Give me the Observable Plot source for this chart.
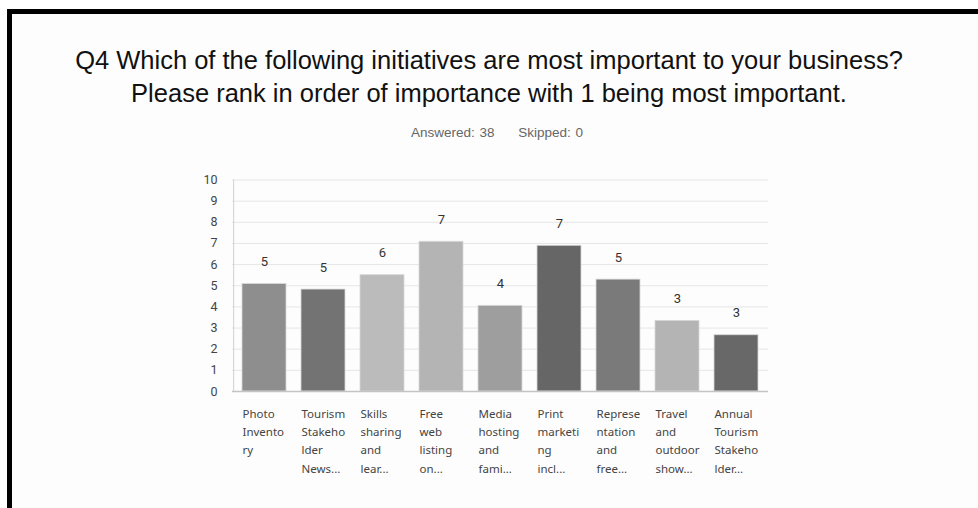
<!DOCTYPE html>
<html>
<head>
<meta charset="utf-8">
<script src="https://cdn.jsdelivr.net/npm/d3@7"></script>
<script src="https://cdn.jsdelivr.net/npm/@observablehq/plot@0.6"></script>
<style>
  html, body { margin: 0; padding: 0; background: #fff; }
  #page { position: relative; width: 978px; height: 508px; overflow: hidden; background: #fff; }
  #frame { position: absolute; left: 7px; top: 9px; right: 0; bottom: 0;
           border-top: 5px solid #000; border-left: 5px solid #000; background: #fdfdfd; }
  #title { position: absolute; left: 0; width: 978px; top: 44px; text-align: center;
           font-family: "Liberation Sans", Arial, sans-serif; font-size: 25.5px; line-height: 33px; color: #111; }
  #sub { position: absolute; left: 8px; width: 978px; top: 125px; text-align: center;
         font-family: "Liberation Sans", Arial, sans-serif; font-size: 13.5px; color: #666; word-spacing: 1px; }
  #chart { position: absolute; left: 0; top: 160px; }
</style>
</head>
<body>
<div id="page">
  <div id="frame"></div>
  <div id="title">Q4 Which of the following initiatives are most important to your business?<br>Please rank in order of importance with 1 being most important.</div>
  <div id="sub">Answered: 38&nbsp;&nbsp;&nbsp;&nbsp;&nbsp;Skipped: 0</div>
  <div id="chart"></div>
</div>
<script>
const categories = [
  "Photo Inventory",
  "Tourism Stakeholder News...",
  "Skills sharing and lear...",
  "Free web listing on...",
  "Media hosting and fami...",
  "Print marketing incl...",
  "Representation and free...",
  "Travel and outdoor show...",
  "Annual Tourism Stakeholder..."
];
const tickLabels = [
  "Photo\nInvento\nry",
  "Tourism\nStakeho\nlder\nNews...",
  "Skills\nsharing\nand\nlear...",
  "Free\nweb\nlisting\non...",
  "Media\nhosting\nand\nfami...",
  "Print\nmarketi\nng\nincl...",
  "Represe\nntation\nand\nfree...",
  "Travel\nand\noutdoor\nshow...",
  "Annual\nTourism\nStakeho\nlder..."
];
const scores = [5.08, 4.82, 5.50, 7.08, 4.05, 6.89, 5.29, 3.34, 2.66];
const scoreLabels = ["5", "5", "6", "7", "4", "7", "5", "3", "3"];
const barColors = ["#8e8e8e", "#737373", "#bbbbbb", "#b4b4b4", "#9e9e9e", "#666666", "#7a7a7a", "#b4b4b4", "#686868"];
const yTicks = [0, 1, 2, 3, 4, 5, 6, 7, 8, 9, 10];

const data = categories.map((c, i) => ({category: c, score: scores[i], label: scoreLabels[i], color: barColors[i]}));
const tickMap = new Map(categories.map((c, i) => [c, tickLabels[i]]));

const width = 978, marginLeft = 232, marginRight = 210;
const padInner = 0.25, padOuter = 0.145;
// offset from first band centre back to the left edge of the plot area
const step = (width - marginLeft - marginRight) / (categories.length - padInner + 2 * padOuter);
const leftEdgeOffset = -(padOuter * step + (1 - padInner) * step / 2);

const chart = Plot.plot({
  width,
  height: 330,
  marginLeft,
  marginRight,
  marginTop: 19.5,
  marginBottom: 99,
  style: {background: "transparent", fontFamily: "Roboto, 'Noto Sans', sans-serif"},
  x: {domain: categories, paddingInner: padInner, paddingOuter: padOuter, label: null},
  y: {domain: [0, 10], label: null},
  marks: [
    Plot.gridY(yTicks.slice(1), {stroke: "#e6e6e6", strokeOpacity: 1}),
    Plot.ruleX([categories[0]], {x: d => d, y1: 0, y2: 10, dx: leftEdgeOffset, stroke: "#d0d0d0"}),
    Plot.barY(data, {x: "category", y: "score", fill: "color", stroke: "#d8d8d8", strokeWidth: 0.8}),
    Plot.ruleY([0], {stroke: "#c4c4c4", strokeWidth: 1.5}),
    Plot.text(data, {x: "category", y: "score", text: "label", dy: -22, fill: "#333", fontSize: 13}),
    Plot.axisY(yTicks, {tickSize: 0, tickPadding: 15, fontSize: 12.5, color: "#444"}),
    Plot.axisX({tickSize: 0, tickPadding: 13, textAnchor: "start", dx: -22, fontSize: 11.5, lineHeight: 1.6, color: "#444",
      fontFamily: "'Noto Sans', sans-serif", tickFormat: d => tickMap.get(d)})
  ]
});
document.getElementById("chart").appendChild(chart);
</script>
</body>
</html>
